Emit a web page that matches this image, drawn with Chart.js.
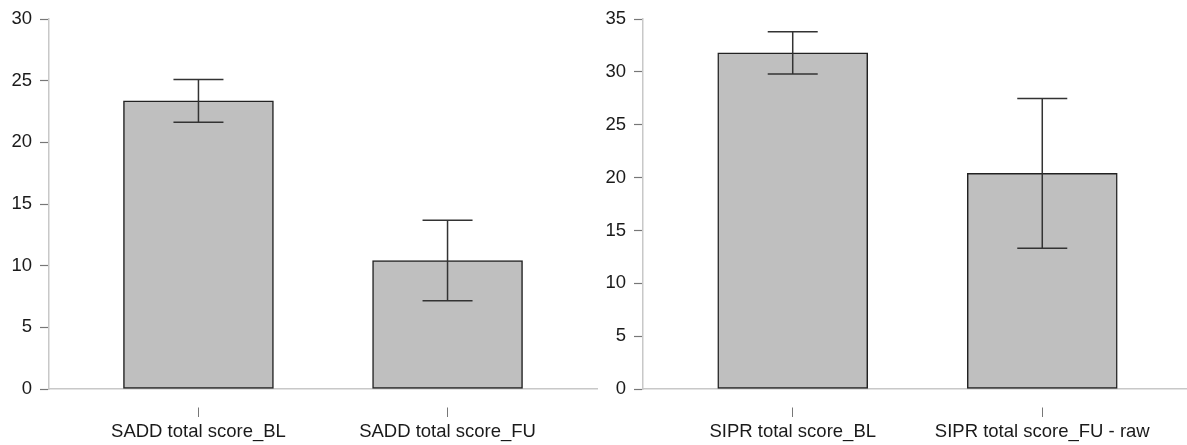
<!DOCTYPE html>
<html><head><meta charset="utf-8">
<script src="https://cdn.jsdelivr.net/npm/chart.js@4.4.0/dist/chart.umd.min.js"></script>
<style>
html,body{margin:0;padding:0;background:#fff;overflow:hidden;}
#wrap{position:relative;width:1187px;height:445px;}
canvas{position:absolute;top:0;}
#c1{left:0;} #c2{left:600px;}
</style></head><body>
<div id="wrap"><canvas id="c1" width="600" height="445"></canvas><canvas id="c2" width="587" height="445"></canvas></div>
<script>
// ---- data ----
const saddLabels = ['SADD total score_BL', 'SADD total score_FU'];
const saddMeans = [23.37, 10.42];
const saddErrors = [1.74, 3.26];
const saddYMax = 30;

const siprLabels = ['SIPR total score_BL', 'SIPR total score_FU - raw'];
const siprMeans = [31.8, 20.4];
const siprErrors = [2.0, 7.08];
const siprYMax = 35;

const yStep = 5;

// ---- styles ----
const FONT = "'Liberation Sans', Arial, sans-serif";
const AXIS_COLOR = '#c8c8c8';
const TICK_COLOR = '#777';
const TEXT_COLOR = '#1a1a1a';
const BAR_FILL = '#bfbfbf';
const BAR_EDGE = '#222';
const ERR_COLOR = '#333';

function makeChart(canvasId, labels, means, errors, yMax, cfg) {
  const barData = means.map((m, i) => ({ x: i, y: m }));
  const errData = [];
  means.forEach((m, i) => {
    errData.push({ x: i, y: m - errors[i] });
    errData.push({ x: i, y: m + errors[i] });
    errData.push({ x: i + 0.5, y: null });
  });
  return new Chart(document.getElementById(canvasId), {
    type: 'bar',
    data: {
      datasets: [
        {
          type: 'line', data: errData, order: 0, clip: false,
          borderColor: ERR_COLOR, borderWidth: 1.5, spanGaps: false,
          pointStyle: 'line', pointRadius: 25, pointBorderColor: ERR_COLOR,
          pointBorderWidth: 1.5, pointBackgroundColor: ERR_COLOR, fill: false
        },
        {
          type: 'bar', data: barData, order: 1,
          backgroundColor: BAR_FILL, borderColor: BAR_EDGE, borderWidth: 1.5,
          borderSkipped: false, barThickness: 150
        }
      ]
    },
    options: {
      responsive: false, animation: false,
      layout: { autoPadding: false, padding: { top: 17, right: cfg.padRight, left: 0, bottom: 0 } },
      plugins: { legend: { display: false }, tooltip: { enabled: false } },
      scales: {
        x: {
          type: 'linear', min: cfg.xMin, max: cfg.xMax, offset: false,
          afterBuildTicks: s => { s.ticks = labels.map((_, i) => ({ value: i })); },
          afterFit: s => { s.height = 56; s.paddingLeft = 0; s.paddingRight = 0; },
          ticks: {
            callback: v => labels[v], autoSkip: false, maxRotation: 0, minRotation: 0,
            font: { family: FONT, size: 18.5 }, color: TEXT_COLOR, padding: 4
          },
          grid: {
            display: true, offset: false, drawOnChartArea: false, drawTicks: true, tickLength: 28,
            tickColor: TICK_COLOR, tickWidth: 1, tickBorderDash: [0, 18, 10, 100]
          },
          border: { display: true, color: AXIS_COLOR, width: 1.5 }
        },
        y: {
          min: 0, max: yMax,
          afterFit: s => { s.width = cfg.axisWidth; },
          ticks: { stepSize: yStep, font: { family: FONT, size: 18.5 }, color: TEXT_COLOR, padding: 8 },
          grid: { display: true, drawOnChartArea: false, tickLength: 9, tickColor: TICK_COLOR, tickWidth: 1.2 },
          border: { display: true, color: AXIS_COLOR, width: 1.5 }
        }
      }
    }
  });
}

makeChart('c1', saddLabels, saddMeans, saddErrors, saddYMax, { axisWidth: 49, padRight: 3, xMin: -0.6, xMax: 1.6 });
makeChart('c2', siprLabels, siprMeans, siprErrors, siprYMax, { axisWidth: 43, padRight: 0, xMin: -0.6, xMax: 1.58 });
</script>
</body></html>
